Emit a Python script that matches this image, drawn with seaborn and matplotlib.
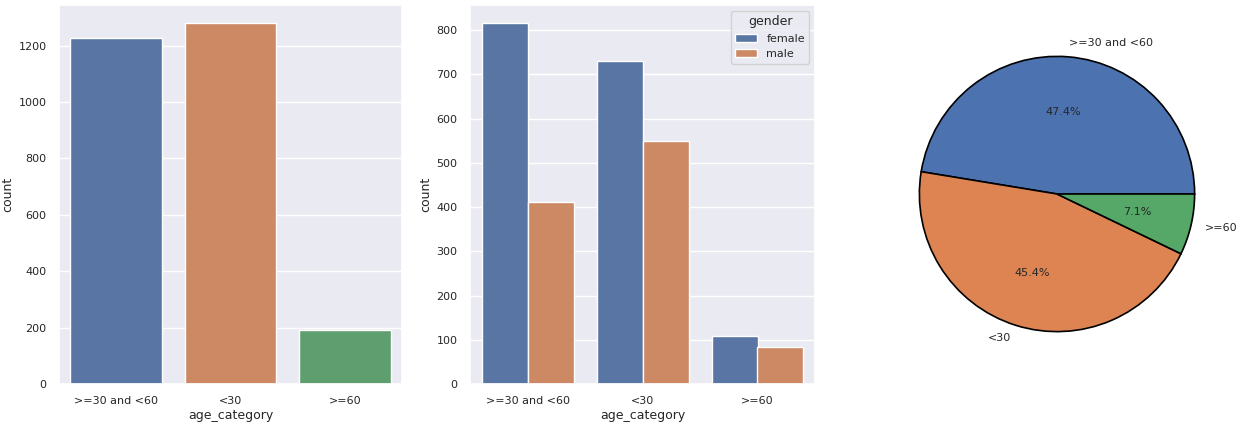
import pandas as pd
import matplotlib
matplotlib.use('Agg')
import matplotlib.pyplot as plt
import seaborn as sns

sns.set_theme()

categories = ['>=30 and <60', '<30', '>=60']
total_counts = [1227, 1280, 193]
female_counts = [816, 731, 109]
male_counts = [411, 549, 84]
pie_values = [1280, 1227, 193]

df_total = pd.DataFrame({'age_category': categories, 'count': total_counts})
df_gender = pd.DataFrame({
    'age_category': categories * 2,
    'count': female_counts + male_counts,
    'gender': ['female'] * 3 + ['male'] * 3,
})

W, H = 1244, 424
fig = plt.figure(figsize=(W / 100, H / 100), dpi=100)
ax1 = fig.add_axes([59/W, 1 - 384/H, 343/W, 379/H])
ax2 = fig.add_axes([470/W, 1 - 384/H, 345/W, 379/H])
r = 139
ax3 = fig.add_axes([(1057 - r)/W, 1 - (194 + r)/H, 2*r/W, 2*r/H])

sns.barplot(data=df_total, x='age_category', y='count', hue='age_category',
            palette='deep', saturation=0.75, ax=ax1, legend=False)
ax1.set_yticks([0, 200, 400, 600, 800, 1000, 1200])

sns.barplot(data=df_gender, x='age_category', y='count', hue='gender',
            palette='deep', saturation=0.75, ax=ax2)
ax2.legend(title='gender', loc='upper right', fontsize=8, title_fontsize=9)

for ax in (ax1, ax2):
    ax.tick_params(labelsize=8, pad=3)
    ax.set_xlabel('age_category', fontsize=9, labelpad=2)
    ax.set_ylabel('count', fontsize=9, labelpad=3)

ax3.pie(pie_values, labels=categories, autopct='%1.1f%%',
        colors=sns.color_palette('deep')[:3],
        wedgeprops={'edgecolor': 'black', 'linewidth': 1.2, 'clip_on': False},
        textprops={'fontsize': 8})
ax3.set_xlim(-1.01, 1.01)
ax3.set_ylim(-1.01, 1.01)
ax3.set_aspect('equal')

fig.savefig('out.png', dpi=100)
